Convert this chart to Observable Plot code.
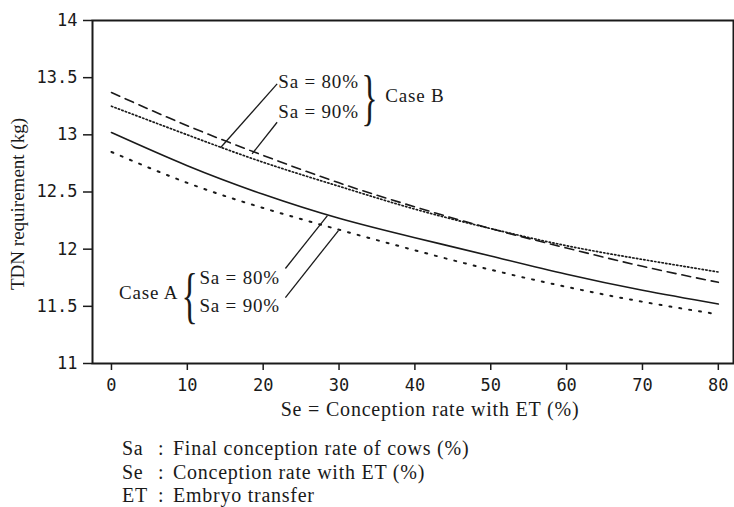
<!DOCTYPE html>
<html><head><meta charset="utf-8">
<script src="https://cdn.jsdelivr.net/npm/d3@7"></script>
<script src="https://cdn.jsdelivr.net/npm/@observablehq/plot@0.6"></script>
<style>
body{margin:0;background:#fff;}
#chart{position:relative;width:734px;height:507px;overflow:hidden;background:#fff;}
.notes{position:absolute;left:122px;top:437px;font-family:"Liberation Serif",serif;font-size:20px;line-height:23.5px;color:#1a1a1a;white-space:nowrap;letter-spacing:0.75px;}
.notes span.k{display:inline-block;width:36px}
.notes span.c{display:inline-block;width:15px}
</style></head>
<body><div id="chart"></div>
<script>
// Se = conception rate with ET (%)
const se = [0, 10, 20, 30, 40, 50, 60, 70, 80];
// TDN requirement (kg)
const caseA_sa80 = [13.02, 12.73, 12.48, 12.27, 12.10, 11.94, 11.78, 11.64, 11.52];
const caseA_sa90 = [12.85, 12.58, 12.36, 12.17, 11.99, 11.82, 11.67, 11.54, 11.43];
const caseB_sa80 = [13.37, 13.08, 12.82, 12.58, 12.37, 12.18, 12.01, 11.85, 11.71];
const caseB_sa90 = [13.25, 13.00, 12.76, 12.55, 12.35, 12.18, 12.03, 11.91, 11.80];

const xTicks = [0, 10, 20, 30, 40, 50, 60, 70, 80];
const yTicks = [11, 11.5, 12, 12.5, 13, 13.5, 14];

const xLabel = "Se = Conception rate with ET (%)";
const yLabel = "TDN requirement (kg)";
const notes = [["Sa", "Final conception rate of cows (%)"], ["Se", "Conception rate with ET (%)"], ["ET", "Embryo transfer"]];

// annotation labels (data coordinates)
const annText = [
  {t: "Sa = 80%", x: 22.0, y: 13.466},
  {t: "Sa = 90%", x: 22.0, y: 13.204},
  {t: "Case B", x: 36.1, y: 13.34},
  {t: "Sa = 80%", x: 11.6, y: 11.752},
  {t: "Sa = 90%", x: 11.6, y: 11.50}
];
const annTextEnd = [{t: "Case A", x: 8.8, y: 11.62}];
const braces = [{t: "}", x: 34.0, y: 13.36}, {t: "{", x: 10.3, y: 11.625}];
const leaders = [
  {x1: 21.84, y1: 13.446, x2: 14.37, y2: 12.887},
  {x1: 21.84, y1: 13.110, x2: 18.54, y2: 12.834},
  {x1: 22.93, y1: 11.831, x2: 28.47, y2: 12.294},
  {x1: 22.93, y1: 11.577, x2: 29.92, y2: 12.163}
];

const mk = arr => se.map((x, i) => ({se: x, tdn: arr[i]}));

const serif = "Liberation Serif, Times New Roman, serif";
const mono = "DejaVu Sans Mono, monospace";
const ink = "#1a1a1a";

const plot = Plot.plot({
  width: 734,
  height: 430,
  marginTop: 20,
  marginBottom: 67,
  marginLeft: 92,
  marginRight: 1,
  style: {background: "#fff", color: ink},
  x: {domain: [-2.5, 82]},
  y: {domain: [11, 14]},
  marks: [
    Plot.frame({stroke: ink, strokeWidth: 2}),
    Plot.axisY({ticks: yTicks, tickFormat: d => `${d}`, tickSize: 9, tickPadding: 6, fontFamily: mono, fontSize: 17, label: null, strokeWidth: 1.5, stroke: ink, fill: ink}),
    Plot.axisX({ticks: xTicks, tickFormat: d => `${d}`, tickSize: 7, tickPadding: 8, fontFamily: mono, fontSize: 17, label: null, strokeWidth: 1.5, stroke: ink, fill: ink}),
    Plot.line(mk(caseA_sa80), {x: "se", y: "tdn", curve: "natural", stroke: ink, strokeWidth: 1.6}),
    Plot.line(mk(caseA_sa90), {x: "se", y: "tdn", curve: "natural", stroke: ink, strokeWidth: 2, strokeDasharray: "2,8"}),
    Plot.line(mk(caseB_sa80), {x: "se", y: "tdn", curve: "natural", stroke: ink, strokeWidth: 1.6, strokeDasharray: "9,6"}),
    Plot.line(mk(caseB_sa90), {x: "se", y: "tdn", curve: "natural", stroke: ink, strokeWidth: 1.7, strokeDasharray: "1.3,2.4"}),
    Plot.link(leaders, {x1: "x1", y1: "y1", x2: "x2", y2: "y2", stroke: ink, strokeWidth: 1.3}),
    Plot.text(annText, {x: "x", y: "y", text: "t", textAnchor: "start", fontFamily: serif, fontSize: 19, fill: ink}),
    Plot.text(annTextEnd, {x: "x", y: "y", text: "t", textAnchor: "end", fontFamily: serif, fontSize: 19, fill: ink}),
    Plot.text(braces, {x: "x", y: "y", text: "t", textAnchor: "middle", fontFamily: serif, fontSize: 62, fill: ink, dy: 4}),
    Plot.text([xLabel], {frameAnchor: "bottom", textAnchor: "middle", lineAnchor: "middle", dy: 46, dx: 17, fontFamily: serif, fontSize: 20, fill: ink}),
    Plot.text([yLabel], {frameAnchor: "left", textAnchor: "middle", lineAnchor: "middle", rotate: -90, dx: -75, dy: 12, fontFamily: serif, fontSize: 19, fill: ink})
  ]
});

const chart = document.getElementById("chart");
chart.appendChild(plot);

const svg = d3.select(plot);
// letter spacing tweaks for serif labels to match the reference's wider face
svg.selectAll("text").filter(function() { return this.textContent === xLabel; }).style("letter-spacing", "0.8px");
svg.selectAll("text").filter(function() { return this.textContent.startsWith("Sa =") || this.textContent === "Case A" || this.textContent === "Case B"; }).style("letter-spacing", "0.8px");

// thin the brace glyphs horizontally
svg.selectAll("text").filter(function() { return this.textContent === "{" || this.textContent === "}"; })
  .each(function() {
    const b = this.getBBox();
    const cx = b.x + b.width / 2, cy = b.y + b.height / 2;
    const prev = this.getAttribute("transform") || "";
    this.setAttribute("transform", `${prev} translate(${cx},${cy}) scale(0.55,1) translate(${-cx},${-cy})`);
  });

const nd = document.createElement("div");
nd.className = "notes";
nd.innerHTML = notes.map(([k, v]) => `<div><span class="k">${k}</span><span class="c">:</span>${v}</div>`).join("");
chart.appendChild(nd);
</script>
</body></html>
